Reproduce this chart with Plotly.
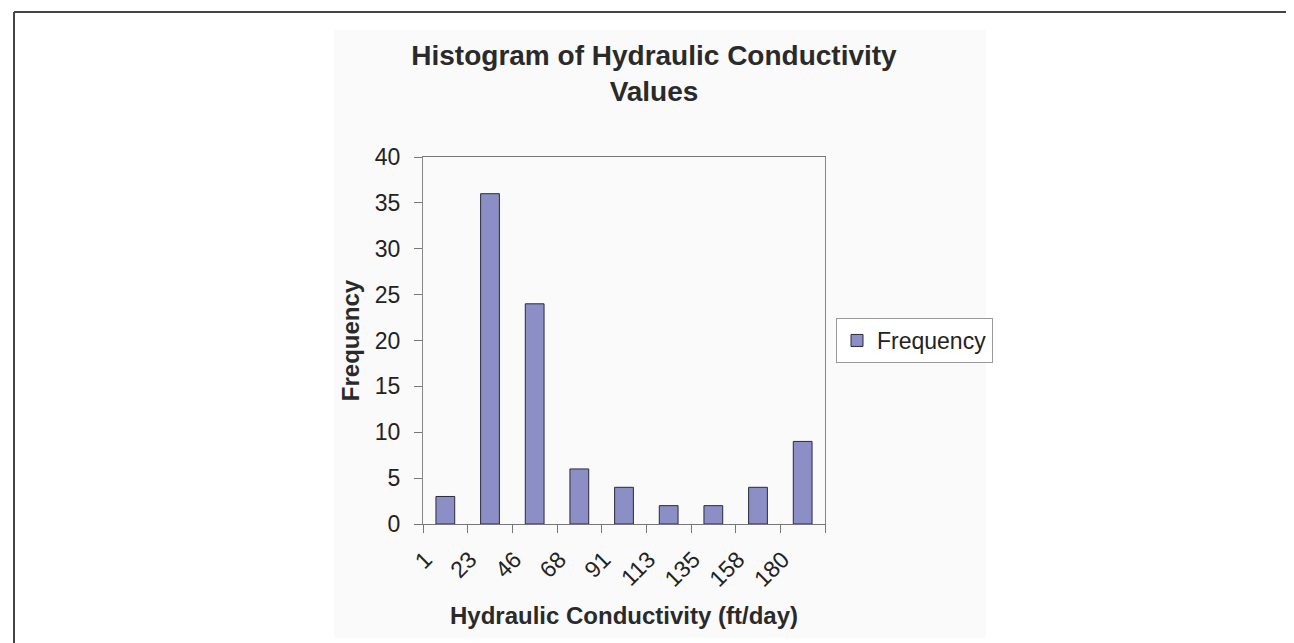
import plotly.graph_objects as go

# ---- data ----
bin_labels = ["1", "23", "46", "68", "91", "113", "135", "158", "180"]
frequency = [3, 36, 24, 6, 4, 2, 2, 4, 9]
y_ticks = [0, 5, 10, 15, 20, 25, 30, 35, 40]

# ---- layout geometry (pixels) ----
W, H = 1294, 643
L, R, T, B = 415, 817, 149, 516


def px_x(px):
    return (px - L) / (R - L)


def px_y(py):
    return (B - py) / (B - T)


FONT = "Liberation Sans, Arial, Helvetica, sans-serif"
TXT = "#222222"

fig = go.Figure()
fig.add_trace(go.Bar(
    x=bin_labels,
    y=frequency,
    name="Frequency",
    width=0.42,
    marker=dict(color="#8b8fc6", line=dict(color="#2a2a3a", width=1)),
    showlegend=True,
))

fig.update_layout(
    width=W, height=H,
    margin=dict(l=L, r=W - R, t=T, b=H - B, autoexpand=False),
    paper_bgcolor="white",
    plot_bgcolor="#c0bdc6",
    font=dict(family=FONT, color=TXT, size=23),
    title=dict(
        text="Histogram of Hydraulic Conductivity<br>Values",
        font=dict(family=FONT, size=28, color="#2a2a2a", weight="bold"),
        x=px_x(646), xref="paper", xanchor="center",
        y=1 - 57 / H, yref="container", yanchor="top",
    ),
    showlegend=True,
    legend=dict(
        x=px_x(828), y=0.5, xanchor="left", yanchor="middle",
        xref="paper", yref="paper",
        bgcolor="white", bordercolor="#999999", borderwidth=1,
        font=dict(family=FONT, size=23, color=TXT),
    ),
)

fig.update_xaxes(
    type="category",
    tickson="boundaries",
    ticks="outside", ticklen=8, tickcolor="#777777", tickwidth=1,
    showline=True, linecolor="#777777", linewidth=1, mirror=True,
    showgrid=False,
    tickangle=-45,
    ticklabelshift=-20,
    ticklabelstandoff=12,
    tickfont=dict(family=FONT, size=23, color=TXT),
    title=dict(text="Hydraulic Conductivity (ft/day)",
               font=dict(family=FONT, size=24, color="#2a2a2a", weight="bold"),
               standoff=16),
)
fig.update_yaxes(
    range=[0, 40],
    tickvals=y_ticks,
    ticks="outside", ticklen=8, tickcolor="#777777", tickwidth=1,
    showline=True, linecolor="#888888", linewidth=1, mirror=True,
    showgrid=False, zeroline=False,
    ticklabelstandoff=9,
    tickfont=dict(family=FONT, size=23, color=TXT),
    title=dict(text="Frequency",
               font=dict(family=FONT, size=24, color="#2a2a2a", weight="bold"),
               standoff=8),
)

# outer page frame and faint chart area
fig.add_shape(type="rect", xref="paper", yref="paper",
              x0=px_x(326), x1=px_x(978), y0=px_y(630), y1=px_y(22),
              fillcolor="#fafafa", line=dict(width=0), layer="below")
fig.add_shape(type="line", xref="paper", yref="paper",
              x0=px_x(6), x1=px_x(W), y0=px_y(4), y1=px_y(4),
              line=dict(color="#444444", width=2), layer="above")
fig.add_shape(type="line", xref="paper", yref="paper",
              x0=px_x(6), x1=px_x(6), y0=px_y(4), y1=px_y(H),
              line=dict(color="#444444", width=2), layer="above")

fig.write_html("out.html")
